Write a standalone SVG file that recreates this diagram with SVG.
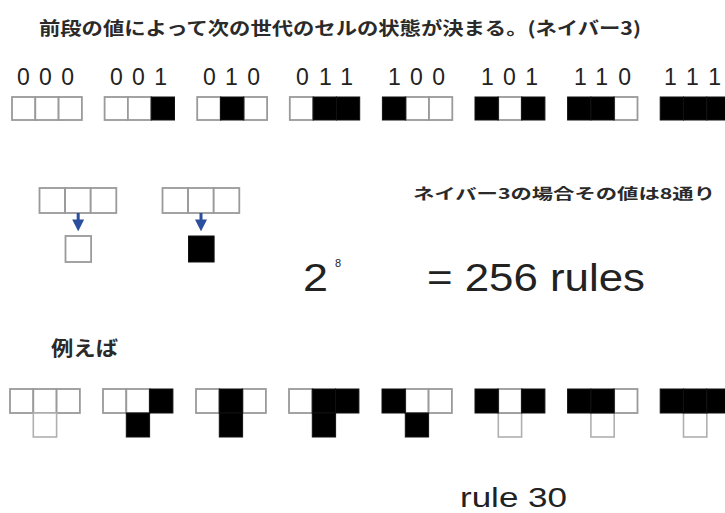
<svg xmlns="http://www.w3.org/2000/svg" width="725" height="513" viewBox="0 0 725 513">
<defs>
<style>
.w{fill:#fff;stroke:#9a9a9a;stroke-width:1.8}
.k{fill:#000;stroke:#111;stroke-width:1}
.r{fill:#fff;stroke:#b0b0b0;stroke-width:1.6}
.jp{font-family:"Noto Sans CJK JP","Noto Sans",sans-serif;font-weight:bold;fill:#2a2a2a}
.num{font-family:"Liberation Sans",Arial,sans-serif;fill:#222}
.arr{stroke:#2b4f9e;stroke-width:3;fill:none}
</style>
<marker id="ah" markerWidth="4" markerHeight="4" refX="2.2" refY="2" orient="auto" markerUnits="strokeWidth">
<path d="M0,0 L4,2 L0,4 z" fill="#2b4f9e"/>
</marker>
</defs>
<rect width="725" height="513" fill="#fff"/>

<text class="jp" x="39" y="35" font-size="18" textLength="602" lengthAdjust="spacingAndGlyphs">前段の値によって次の世代のセルの状態が決まる。(ネイバー3)</text>

<g id="labels" class="num" font-size="23">
<text x="17" y="85" textLength="57">000</text>
<text x="110" y="85" textLength="57">001</text>
<text x="203" y="85" textLength="57">010</text>
<text x="296" y="85" textLength="57">011</text>
<text x="388" y="85" textLength="57">100</text>
<text x="481" y="85" textLength="57">101</text>
<text x="574" y="85" textLength="57">110</text>
<text x="664" y="85" textLength="57">111</text>
</g>

<g id="top-000"><rect class="w" x="12" y="97" width="23.3" height="23"/><rect class="w" x="35.3" y="97" width="23.3" height="23"/><rect class="w" x="58.6" y="97" width="23.3" height="23"/></g>
<g id="top-001"><rect class="w" x="104.6" y="97" width="23.3" height="23"/><rect class="w" x="127.9" y="97" width="23.3" height="23"/><rect class="k" x="151.2" y="97" width="23.3" height="23"/></g>
<g id="top-010"><rect class="w" x="197.2" y="97" width="23.3" height="23"/><rect class="w" x="243.8" y="97" width="23.3" height="23"/><rect class="k" x="220.5" y="97" width="23.3" height="23"/></g>
<g id="top-011"><rect class="w" x="289.8" y="97" width="23.3" height="23"/><rect class="k" x="313.1" y="97" width="23.3" height="23"/><rect class="k" x="336.4" y="97" width="23.3" height="23"/></g>
<g id="top-100"><rect class="w" x="405.7" y="97" width="23.3" height="23"/><rect class="w" x="429" y="97" width="23.3" height="23"/><rect class="k" x="382.4" y="97" width="23.3" height="23"/></g>
<g id="top-101"><rect class="w" x="498.3" y="97" width="23.3" height="23"/><rect class="k" x="475" y="97" width="23.3" height="23"/><rect class="k" x="521.6" y="97" width="23.3" height="23"/></g>
<g id="top-110"><rect class="w" x="614.2" y="97" width="23.3" height="23"/><rect class="k" x="567.6" y="97" width="23.3" height="23"/><rect class="k" x="590.9" y="97" width="23.3" height="23"/></g>
<g id="top-111"><rect class="k" x="660.2" y="97" width="23.3" height="23"/><rect class="k" x="683.5" y="97" width="23.3" height="23"/><rect class="k" x="706.8" y="97" width="23.3" height="23"/></g>

<g id="example-white">
<rect class="w" x="39.5" y="188" width="25.6" height="25"/><rect class="w" x="65.1" y="188" width="25.6" height="25"/><rect class="w" x="90.7" y="188" width="25.6" height="25"/>
<rect class="w" x="65.5" y="236" width="25.6" height="26"/>
</g>
<g id="example-black">
<rect class="w" x="162.5" y="188" width="25.6" height="25"/><rect class="w" x="188.1" y="188" width="25.6" height="25"/><rect class="w" x="213.7" y="188" width="25.6" height="25"/>
<rect class="k" x="188.5" y="236" width="25.6" height="26"/>
</g>
<g id="connectors">
<line class="arr" x1="78.2" y1="213" x2="78.2" y2="226" marker-end="url(#ah)"/>
<line class="arr" x1="201" y1="213" x2="201" y2="226" marker-end="url(#ah)"/>
</g>

<text class="jp" x="413" y="199" font-size="15" textLength="302" lengthAdjust="spacingAndGlyphs" fill="#333">ネイバー3の場合その値は8通り</text>

<text class="num" x="303" y="291" font-size="39" textLength="25" lengthAdjust="spacingAndGlyphs">2</text>
<text class="num" x="335" y="267" font-size="11">8</text>
<text class="num" x="427" y="291" font-size="39" textLength="218" lengthAdjust="spacingAndGlyphs">= 256 rules</text>

<text class="jp" x="51" y="356" font-size="20" textLength="67" lengthAdjust="spacingAndGlyphs">例えば</text>

<g id="r-000"><rect class="w" x="10" y="389" width="23.3" height="24"/><rect class="w" x="33.3" y="389" width="23.3" height="24"/><rect class="w" x="56.6" y="389" width="23.3" height="24"/><rect class="r" x="33.3" y="413" width="23.3" height="24"/></g>
<g id="r-001"><rect class="w" x="103" y="389" width="23.3" height="24"/><rect class="w" x="126.3" y="389" width="23.3" height="24"/><rect class="k" x="149.6" y="389" width="23.3" height="24"/><rect class="k" x="126.3" y="413" width="23.3" height="24"/></g>
<g id="r-010"><rect class="w" x="196" y="389" width="23.3" height="24"/><rect class="w" x="242.6" y="389" width="23.3" height="24"/><rect class="k" x="219.3" y="389" width="23.3" height="24"/><rect class="k" x="219.3" y="413" width="23.3" height="24"/></g>
<g id="r-011"><rect class="w" x="289" y="389" width="23.3" height="24"/><rect class="k" x="312.3" y="389" width="23.3" height="24"/><rect class="k" x="335.6" y="389" width="23.3" height="24"/><rect class="k" x="312.3" y="413" width="23.3" height="24"/></g>
<g id="r-100"><rect class="w" x="405.3" y="389" width="23.3" height="24"/><rect class="w" x="428.6" y="389" width="23.3" height="24"/><rect class="k" x="382" y="389" width="23.3" height="24"/><rect class="k" x="405.3" y="413" width="23.3" height="24"/></g>
<g id="r-101"><rect class="r" x="498.3" y="413" width="23.3" height="24"/><rect class="w" x="498.3" y="389" width="23.3" height="24"/><rect class="k" x="475" y="389" width="23.3" height="24"/><rect class="k" x="521.6" y="389" width="23.3" height="24"/></g>
<g id="r-110"><rect class="r" x="590.9" y="413" width="23.3" height="24"/><rect class="w" x="614.2" y="389" width="23.3" height="24"/><rect class="k" x="567.6" y="389" width="23.3" height="24"/><rect class="k" x="590.9" y="389" width="23.3" height="24"/></g>
<g id="r-111"><rect class="r" x="683.5" y="413" width="23.3" height="24"/><rect class="k" x="660.2" y="389" width="23.3" height="24"/><rect class="k" x="683.5" y="389" width="23.3" height="24"/><rect class="k" x="706.8" y="389" width="23.3" height="24"/></g>

<text class="num" x="460" y="507" font-size="28" textLength="107" lengthAdjust="spacingAndGlyphs">rule 30</text>
</svg>
